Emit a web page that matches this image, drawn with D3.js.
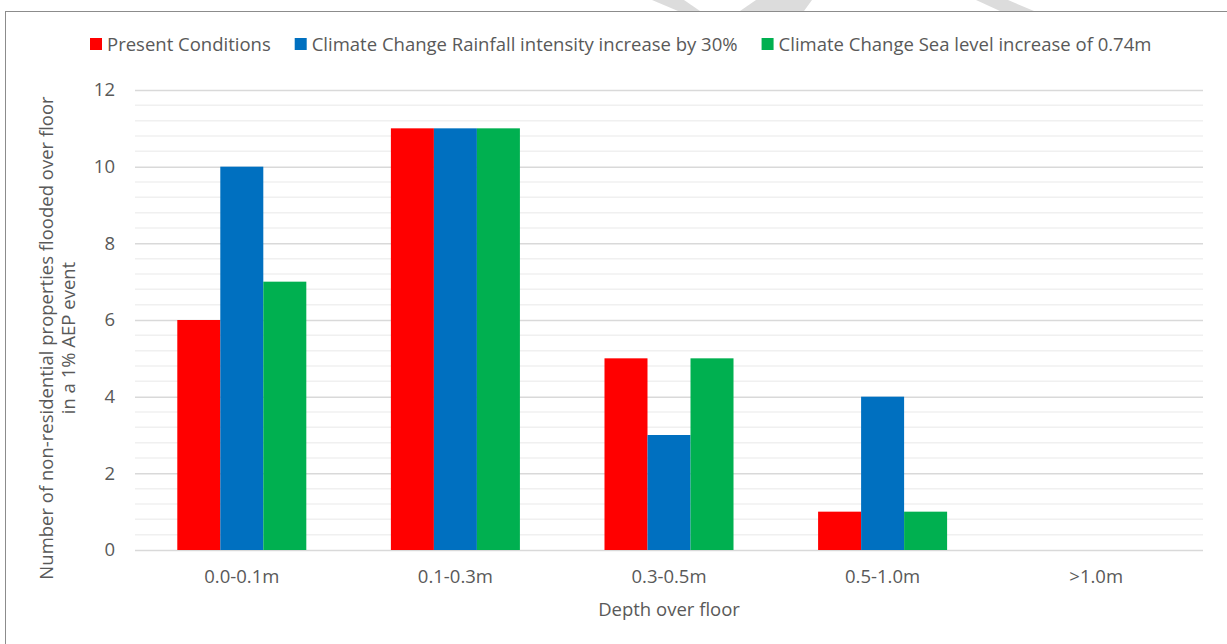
<!DOCTYPE html>
<html>
<head>
<meta charset="utf-8">
<script src="https://cdn.jsdelivr.net/npm/d3@7"></script>
<style>
  body { margin: 0; background: #fff; }
  text { font-family: "Open Sans", Lato, sans-serif; fill: #595959; }
</style>
</head>
<body>
<div id="chart"></div>
<script>
// categories + series
const depthBands = ["0.0-0.1m", "0.1-0.3m", "0.3-0.5m", "0.5-1.0m", ">1.0m"];
const seriesNames = ["Present Conditions", "Climate Change Rainfall intensity increase by 30%", "Climate Change Sea level increase of 0.74m"];
const presentVals = [6, 11, 5, 1, 0];
const rainfallVals = [10, 11, 3, 4, 0];
const seaLevelVals = [7, 11, 5, 1, 0];
const yTicks = [0, 2, 4, 6, 8, 10, 12];

const colors = ["#ff0000", "#0070c0", "#00b050"];
const allSeries = [presentVals, rainfallVals, seaLevelVals];

const W = 1227, H = 644;
const margin = {top: 90, right: 24, bottom: 94, left: 135};
const width = 1203 - margin.left, height = 550 - margin.top;
const fs = "18.5px";

const svg = d3.select("#chart").append("svg")
    .attr("width", W).attr("height", H);

// outer chart border (runs off right / bottom)
svg.append("rect")
    .attr("x", 5.5).attr("y", 11.5)
    .attr("width", W + 10).attr("height", H + 10)
    .attr("fill", "none").attr("stroke", "#8c8c8c").attr("stroke-width", 1);

// bits of the page watermark poking in at the top
const wm = [
  [[652, 0], [684, 0], [700, 11], [678, 11]],
  [[756, 0], [812, 0], [804, 11], [740, 11]],
  [[976, 0], [1008, 0], [1034, 11], [1000, 11]]
];
svg.selectAll(".wm").data(wm).enter().append("polygon")
    .attr("points", d => d.map(p => p.join(",")).join(" "))
    .attr("fill", "#dcdcdc");

const g = svg.append("g").attr("transform", "translate(" + margin.left + "," + margin.top + ")");

const x0 = d3.scaleBand().domain(depthBands).range([0, width]).paddingInner(0.396).paddingOuter(0.198);
const x1 = d3.scaleBand().domain(d3.range(seriesNames.length)).range([0, x0.bandwidth()]);
const y = d3.scaleLinear().domain([0, 12]).range([height, 0]);

// minor gridlines every 0.4
const minor = d3.range(0, 12.001, 0.4).filter(v => Math.abs(v / 2 - Math.round(v / 2)) > 0.01);
g.selectAll(".minor").data(minor).enter().append("line")
    .attr("x1", 0).attr("x2", width)
    .attr("y1", d => y(d)).attr("y2", d => y(d))
    .attr("stroke", "#f0f0f0").attr("stroke-width", 1.5);

// major gridlines + labels
const yAxis = d3.axisLeft(y).tickValues(yTicks).tickSize(-width).tickPadding(20);
g.append("g").call(yAxis)
    .call(a => a.select(".domain").remove())
    .call(a => a.selectAll("line").attr("stroke", "#d9d9d9").attr("stroke-width", 1.5))
    .call(a => a.selectAll("text").style("font-size", fs).attr("fill", "#595959"));

// bars
const rows = depthBands.map((c, i) => ({cat: c, vals: allSeries.map(s => s[i])}));
const grp = g.selectAll(".grp").data(rows).enter().append("g")
    .attr("transform", d => "translate(" + x0(d.cat) + ",0)");
grp.selectAll("rect").data(d => d.vals.map((v, k) => ({k: k, v: v}))).enter().append("rect")
    .attr("x", d => x1(d.k))
    .attr("width", x1.bandwidth())
    .attr("y", d => y(d.v))
    .attr("height", d => height - y(d.v))
    .attr("fill", d => colors[d.k]);

// x axis labels
const xAxis = d3.axisBottom(x0).tickSize(0).tickPadding(20);
g.append("g").attr("transform", "translate(0," + height + ")").call(xAxis)
    .call(a => a.select(".domain").remove())
    .call(a => a.selectAll("text").style("font-size", fs).attr("fill", "#595959"));

// axis titles
svg.append("text")
    .attr("x", margin.left + width / 2).attr("y", 616)
    .attr("text-anchor", "middle").style("font-size", fs)
    .text("Depth over floor");

const yt = svg.append("text")
    .attr("transform", "translate(53,338) rotate(-90)")
    .attr("text-anchor", "middle").style("font-size", fs);
yt.append("tspan").attr("x", 0).attr("dy", 0).text("Number of non-residential properties flooded over floor");
yt.append("tspan").attr("x", 0).attr("dy", 22).text("in a 1% AEP event");

// legend laid out left to right
const leg = svg.append("g").attr("transform", "translate(90,44)");
let lx = 0;
seriesNames.forEach((name, k) => {
  leg.append("rect").attr("x", lx).attr("y", -6).attr("width", 12).attr("height", 12).attr("fill", colors[k]);
  const t = leg.append("text").attr("x", lx + 17).attr("y", 6.5).style("font-size", fs).text(name);
  lx += 17 + t.node().getComputedTextLength() + 24;
});
</script>
</body>
</html>
